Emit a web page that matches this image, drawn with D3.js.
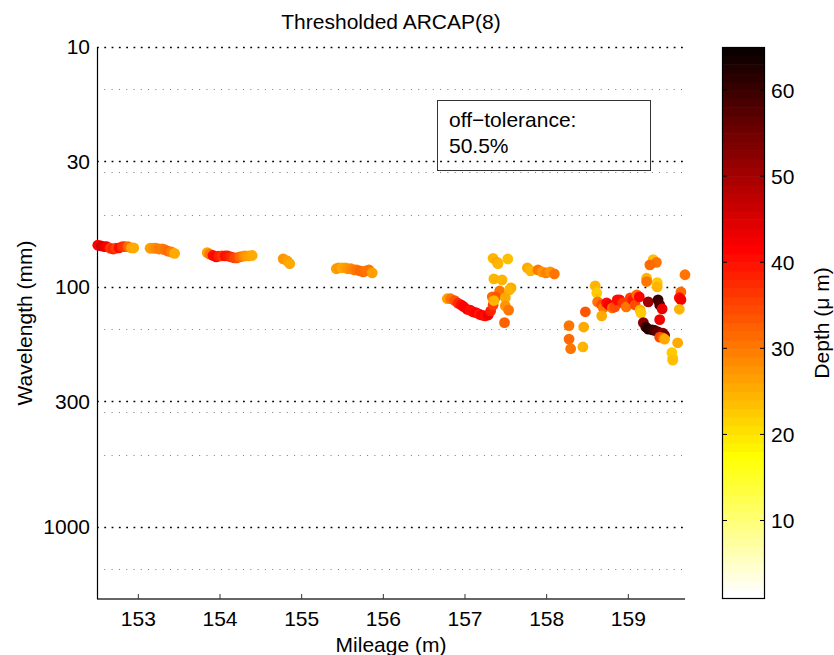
<!DOCTYPE html>
<html>
<head>
<meta charset="utf-8">
<script src="https://cdn.jsdelivr.net/npm/d3@7"></script>
<style>
  html, body { margin: 0; padding: 0; background: #fff; }
  svg { display: block; }
  text { font-family: "Liberation Sans", Arial, Helvetica, sans-serif; fill: #000; }
</style>
</head>
<body>
<svg id="chart" width="834" height="655"></svg>
<script>
// ---------------- data ----------------
const mileage = [
  152.51,152.55,152.59,152.62,152.66,152.70,152.73,152.77,152.81,152.84,152.88,152.92,152.95,
  153.15,153.19,153.22,153.26,153.30,153.33,153.37,153.41,153.45,
  153.85,153.88,153.92,153.96,153.99,154.03,154.07,154.10,154.14,154.18,154.21,154.25,154.29,154.32,154.36,154.40,
  154.78,154.83,154.86,
  155.43,155.46,155.50,155.54,155.57,155.61,155.65,155.68,155.72,155.76,155.79,155.83,155.87,
  156.79,156.83,156.88,156.92,156.96,156.99,157.03,157.07,157.10,157.14,157.18,157.21,157.25,157.29,157.32,157.35,157.36,157.34,
  157.35,157.40,157.41,157.53,157.36,157.46,157.43,157.57,157.55,157.38,157.50,157.36,157.50,157.54,157.49,
  157.77,157.81,157.90,157.95,158.00,158.05,158.10,
  158.28,158.28,158.30,158.46,158.48,158.45,
  158.60,158.62,158.63,158.68,158.70,158.68,158.74,158.77,158.81,158.84,158.87,158.90,158.94,158.98,159.03,159.06,159.09,159.11,159.14,159.15,159.16,
  159.31,159.35,159.27,159.23,159.23,159.36,159.36,
  159.25,159.37,159.39,159.42,159.39,159.19,159.22,159.25,159.30,159.33,159.37,159.43,159.45,159.39,159.43,159.45,
  159.70,159.65,159.63,159.65,159.63,159.61,159.54,159.55,159.55
];
const wavelength = [
  67,67.5,68,68,69,69.5,69,68.8,68,68,68,68.8,68.8,
  69,69,69,69.5,69.5,70,71,71.5,72.5,
  72,73,74,75,74.5,74.3,74.3,74.3,75,75.7,75.7,75,74.5,74.3,74.3,74,
  76.4,78,80,
  84,83.3,83.3,83.3,84,84,85,85,85.7,86.6,85.7,85,87.4,
  112,112,114,117,119,121,124,125,127,128,130,131,132,131,126,119,113,110,
  76,79,80,76.5,92.6,93.5,104,101,103,110,111,114,120,125,141,
  83.3,85.7,85,86.6,87.4,86.6,88.2,
  145,165,181,147,127,178,
  99,106,115.5,118.9,122.4,132,116.6,119,122.4,121.2,113.2,113.2,116.6,121.2,111.1,113.2,118.9,107.9,110.1,124.7,128.3,
  77,79,81,92,95,96,100,
  115.5,113.2,118.9,123.5,137,141,147,150,151,152,154,156,159,162,163,165,
  89,105,111,113,124,171,188,198,202
];
const depth = [
  41,45,43,42,36,38,35,40,37,36,31,26,25,
  26,27,28,29,29,30,31,29,25,
  26,30,40,41,38,36,40,39,37,35,34,31,29,27,26,25,
  27,26,25,
  26,27,25,26,27,28,29,30,31,31,30,30,26,
  26,30,33,37,40,41,41,40,40,41,39,41,40,42,38,35,33,31,
  24,26,24,23,24,24,30,25,24,33,25,24,27,30,32,
  25,24,30,27,29,27,30,
  30,31,30,25,33,24,
  24,22,30,34,30,25,40,42,31,34,40,40,36,30,35,39,34,31,41,24,22,
  23,30,31,24,30,22,24,
  50,60,58,43,42,52,60,62,60,58,56,52,55,35,31,25,
  30,31,40,42,24,25,22,22,23
];

const xTicks = [153,154,155,156,157,158,159];
const yTicks = [10,30,100,300,1000];
const yMinorGrid = [15,100/3,50,150,1000/3,500,1500];
const cbTicks = [10,20,30,40,50,60];
const xDomain = [152.5,159.7];
const yDomain = [10,2000];
const depthDomain = [1,65];
const titleText = "Thresholded ARCAP(8)";
const xLabel = "Mileage (m)";
const yLabel = "Wavelength (mm)";
const cbLabel = "Depth (\u03bc m)";
const noteLines = ["off\u2212tolerance:", "50.5%"];

// ---------------- colormap: flipud(hot(64)) ----------------
function hotMap(m) {
  const n = Math.floor(3/8*m);
  const out = [];
  for (let i = 1; i <= m; i++) {
    const r = i <= n ? i/n : 1;
    const g = i <= n ? 0 : (i <= 2*n ? (i-n)/n : 1);
    const b = i <= 2*n ? 0 : (i-2*n)/(m-2*n);
    out.push(d3.rgb(Math.round(r*255), Math.round(g*255), Math.round(b*255)).formatHex());
  }
  return out;
}
const cmap = hotMap(64).reverse();

// ---------------- layout ----------------
const FS = 21;
const svg = d3.select("#chart");
const L = 97, R = 685, T = 47, B = 599;
const x = d3.scaleLinear().domain(xDomain).range([L, R]);
const y = d3.scaleLog().domain(yDomain).range([T, B]);
const color = d3.scaleQuantize().domain(depthDomain).range(cmap);

// grid
const grid = svg.append("g");
grid.selectAll("line.minor").data(yMinorGrid).join("line")
  .attr("x1", L).attr("x2", R + 1)
  .attr("y1", d => Math.round(y(d)) + 0.5).attr("y2", d => Math.round(y(d)) + 0.5)
  .attr("stroke", "#777").attr("stroke-width", 1)
  .attr("stroke-dasharray", "1,6.3");
grid.selectAll("line.major").data(yTicks).join("line")
  .attr("x1", L).attr("x2", R + 1)
  .attr("y1", d => Math.round(y(d)) + 0.5).attr("y2", d => Math.round(y(d)) + 0.5)
  .attr("stroke", "#000").attr("stroke-width", 1.6)
  .attr("stroke-dasharray", "1.8,5.5");

// axes
const xAxis = d3.axisBottom(x).tickValues(xTicks).tickSize(-5).tickPadding(12).tickFormat(d3.format("d"));
const gx = svg.append("g").attr("transform", `translate(0,${B})`).call(xAxis);
gx.select(".domain").attr("stroke", "#666").attr("stroke-width", 2).attr("d", `M${L},0H${R}`);
gx.selectAll(".tick line").attr("stroke", "#333");
gx.selectAll("text").attr("font-size", FS).attr("fill", "#000")
  .attr("font-family", "Liberation Sans, Arial, sans-serif").attr("dy", "0.71em");

const yAxis = d3.axisLeft(y).tickValues(yTicks).tickSize(0).tickPadding(7).tickFormat(d3.format("d"));
const gy = svg.append("g").attr("transform", `translate(${L},0)`).call(yAxis);
gy.select(".domain").attr("stroke", "#000").attr("stroke-width", 1.2).attr("d", `M0.5,${T}V${B}`);
gy.selectAll("text").attr("font-size", FS).attr("fill", "#000")
  .attr("font-family", "Liberation Sans, Arial, sans-serif");

// points
svg.append("g").selectAll("circle").data(mileage).join("circle")
  .attr("cx", (d, i) => x(d))
  .attr("cy", (d, i) => y(wavelength[i]))
  .attr("r", 5.4)
  .attr("fill", (d, i) => color(depth[i]));

// titles
svg.append("text").attr("x", (L + R) / 2).attr("y", 29).attr("text-anchor", "middle")
  .attr("font-size", FS).text(titleText);
svg.append("text").attr("x", (L + R) / 2).attr("y", 652).attr("text-anchor", "middle")
  .attr("font-size", FS).text(xLabel);
svg.append("text").attr("transform", `translate(32,${(T + B) / 2}) rotate(-90)`)
  .attr("text-anchor", "middle").attr("font-size", FS).text(yLabel);

// note box
const nb = svg.append("g");
nb.append("rect").attr("x", 437.5).attr("y", 100.5).attr("width", 213).attr("height", 70)
  .attr("fill", "none").attr("stroke", "#333").attr("stroke-width", 1);
nb.selectAll("text").data(noteLines).join("text")
  .attr("x", 449).attr("y", (d, i) => 127 + i * 26).attr("font-size", FS).text(d => d);

// colorbar
const cbL = 722, cbR = 765, cbT = 47, cbB = 598;
const cy = d3.scaleLinear().domain(depthDomain).range([cbB, cbT]);
const cb = svg.append("g");
const bw = (depthDomain[1] - depthDomain[0]) / cmap.length;
const bands = d3.range(cmap.length).map(i => depthDomain[0] + i * bw);
cb.selectAll("rect.band").data(bands).join("rect")
  .attr("x", cbL).attr("width", cbR - cbL)
  .attr("y", d => cy(d + bw)).attr("height", d => cy(d) - cy(d + bw) + 0.6)
  .attr("fill", d => color(d + bw / 2));
cb.append("rect").attr("x", cbL + 0.5).attr("y", cbT + 0.5).attr("width", cbR - cbL - 1).attr("height", cbB - cbT)
  .attr("fill", "none").attr("stroke", "#000").attr("stroke-width", 1.2);
cb.selectAll("line.tl").data(cbTicks).join("line")
  .attr("x1", cbL).attr("x2", cbL + 5).attr("y1", d => cy(d)).attr("y2", d => cy(d))
  .attr("stroke", "#000");
cb.selectAll("line.tr").data(cbTicks).join("line")
  .attr("x1", cbR - 5).attr("x2", cbR).attr("y1", d => cy(d)).attr("y2", d => cy(d))
  .attr("stroke", "#000");
cb.selectAll("text.tk").data(cbTicks).join("text")
  .attr("x", 771).attr("y", d => cy(d)).attr("dy", "0.36em").attr("font-size", FS).text(d => d);
svg.append("text").attr("transform", `translate(829,${(T + B) / 2}) rotate(-90)`)
  .attr("text-anchor", "middle").attr("font-size", FS).text(cbLabel);
</script>
</body>
</html>
